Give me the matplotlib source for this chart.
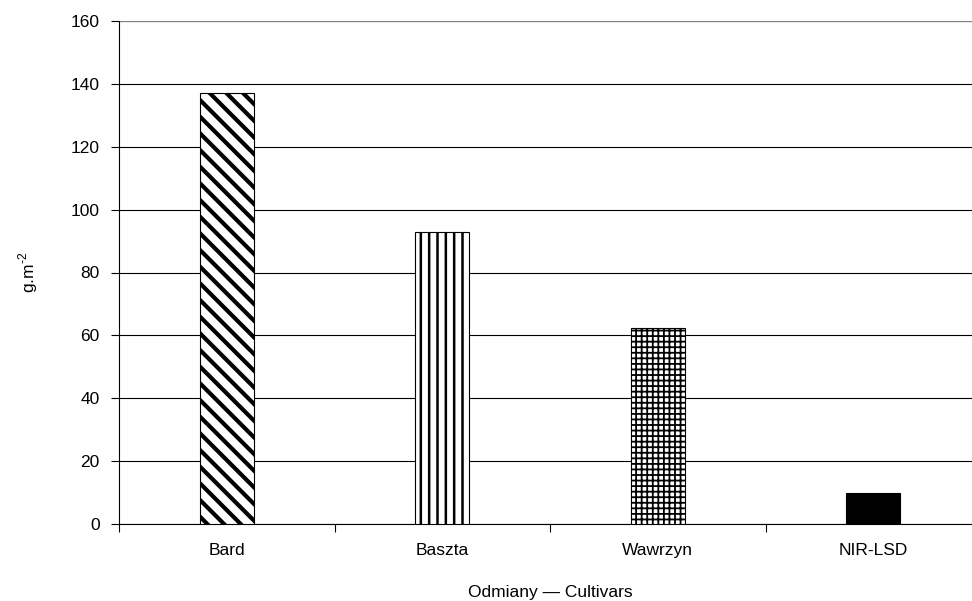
import matplotlib.pyplot as plt
from matplotlib.ticker import FixedLocator, NullFormatter

plt.rcParams['font.family'] = ['Liberation Sans', 'DejaVu Sans']
plt.rcParams['mathtext.fontset'] = 'custom'
plt.rcParams['mathtext.rm'] = 'Liberation Sans'

cultivars = ['Bard', 'Baszta', 'Wawrzyn', 'NIR-LSD']
values = [137, 93, 62.5, 10]
hatches = ['\\\\', '||', '+++', '']
hatch_lw = [3.0, 1.8, 1.3, 1.0]
fills = ['white', 'white', 'white', 'black']

fig = plt.figure(figsize=(9.72, 6.01), dpi=100)
ax = fig.add_axes([119 / 972, 1 - 524 / 601, 862 / 972, 503 / 601])

x = range(len(cultivars))
for i in x:
    plt.rcParams['hatch.linewidth'] = hatch_lw[i]
    ax.bar(i, values[i], width=0.25, color=fills[i], edgecolor='black',
           hatch=hatches[i], linewidth=0.8, zorder=3)

ax.set_xlim(-0.5, 3.5)
ax.set_ylim(0, 160)
ax.set_yticks(range(0, 161, 20))
ax.yaxis.grid(True, color='black', linewidth=0.8, zorder=0)
ax.set_xticks(list(x))
ax.set_xticklabels(cultivars, fontsize=12.5)
ax.xaxis.set_minor_locator(FixedLocator([-0.5, 0.5, 1.5, 2.5, 3.5]))
ax.xaxis.set_minor_formatter(NullFormatter())
ax.tick_params(axis='x', which='major', length=0, pad=14)
ax.tick_params(axis='x', which='minor', length=6, width=0.8)
ax.tick_params(axis='y', length=6, width=0.8, labelsize=12.5, pad=8)

for s in ['top', 'right']:
    ax.spines[s].set_visible(False)
ax.spines['left'].set_linewidth(0.8)
ax.spines['bottom'].set_linewidth(0.8)
ax.axhline(160, color='gray', linewidth=0.8)

ax.set_ylabel('g.m$^{\\text{-2}}$', fontsize=12.5, labelpad=22)
ax.set_xlabel('Odmiany — Cultivars', fontsize=12.5, labelpad=19)

fig.savefig('out.png', dpi=100)
